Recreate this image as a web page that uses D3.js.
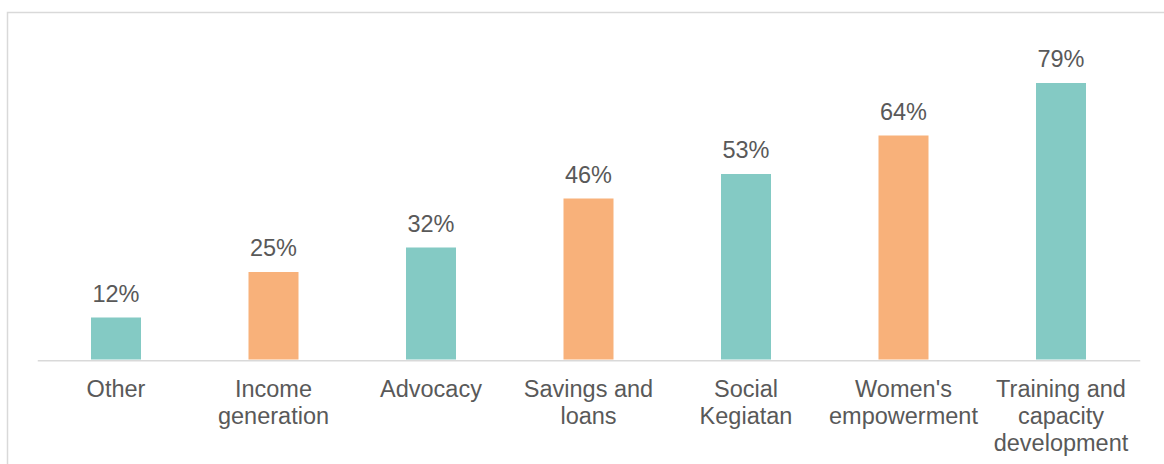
<!DOCTYPE html>
<html>
<head>
<meta charset="utf-8">
<script src="https://cdn.jsdelivr.net/npm/d3@7"></script>
<style>
  html, body { margin: 0; padding: 0; background: #fff; }
  svg { display: block; }
</style>
</head>
<body>
<svg id="chart" width="1164" height="464"></svg>
<script>
const categories = ["Other", "Income generation", "Advocacy", "Savings and loans", "Social Kegiatan", "Women's empowerment", "Training and capacity development"];
const categoryLines = [["Other"], ["Income", "generation"], ["Advocacy"], ["Savings and", "loans"], ["Social", "Kegiatan"], ["Women's", "empowerment"], ["Training and", "capacity", "development"]];
const values = [0.12, 0.25, 0.32, 0.46, 0.53, 0.64, 0.79];
const valueLabels = ["12%", "25%", "32%", "46%", "53%", "64%", "79%"];
const barColors = ["#84CAC4", "#F8B17A", "#84CAC4", "#F8B17A", "#84CAC4", "#F8B17A", "#84CAC4"];

const svg = d3.select("#chart");
const font = "'Liberation Sans', Arial, sans-serif";
const textColor = "#595959";

// chart border
svg.append("rect")
  .attr("x", 7.5).attr("y", 12.5)
  .attr("width", 1170).attr("height", 470)
  .attr("fill", "none").attr("stroke", "#d9d9d9").attr("stroke-width", 1.5);

const left = 37.25, right = 1139.75, baseY = 359.5, topY = 44.5;

const x = d3.scaleBand().domain(categories).range([left, right]).paddingInner(0).paddingOuter(0);
const y = d3.scaleLinear().domain([0, 0.9]).range([baseY, topY]);
const barW = 50;

const g = svg.append("g");

g.selectAll("rect.bar").data(values).enter().append("rect")
  .attr("class", "bar")
  .attr("x", (d, i) => x(categories[i]) + x.bandwidth() / 2 - barW / 2)
  .attr("y", d => y(d))
  .attr("width", barW)
  .attr("height", d => baseY - y(d))
  .attr("fill", (d, i) => barColors[i]);

// baseline axis
const axis = d3.axisBottom(x).tickSize(0).tickFormat("");
const ax = svg.append("g").attr("transform", `translate(0,${baseY + 0.75})`).call(axis);
ax.select(".domain").attr("stroke", "#d9d9d9").attr("stroke-width", 1.5);

// value labels
g.selectAll("text.val").data(values).enter().append("text")
  .attr("class", "val")
  .attr("x", (d, i) => x(categories[i]) + x.bandwidth() / 2)
  .attr("y", d => y(d) - 16)
  .attr("text-anchor", "middle")
  .attr("font-family", font)
  .attr("font-size", 23.5)
  .attr("fill", textColor)
  .text((d, i) => valueLabels[i]);

// category labels
const cl = g.selectAll("text.cat").data(categories).enter().append("text")
  .attr("class", "cat")
  .attr("x", d => x(d) + x.bandwidth() / 2)
  .attr("y", 397)
  .attr("text-anchor", "middle")
  .attr("font-family", font)
  .attr("font-size", 23.5)
  .attr("fill", textColor);
cl.each(function(d, i) {
  const t = d3.select(this);
  categoryLines[i].forEach((line, j) => {
    t.append("tspan")
      .attr("x", x(d) + x.bandwidth() / 2)
      .attr("y", 397 + j * 27)
      .text(line);
  });
});
</script>
</body>
</html>
